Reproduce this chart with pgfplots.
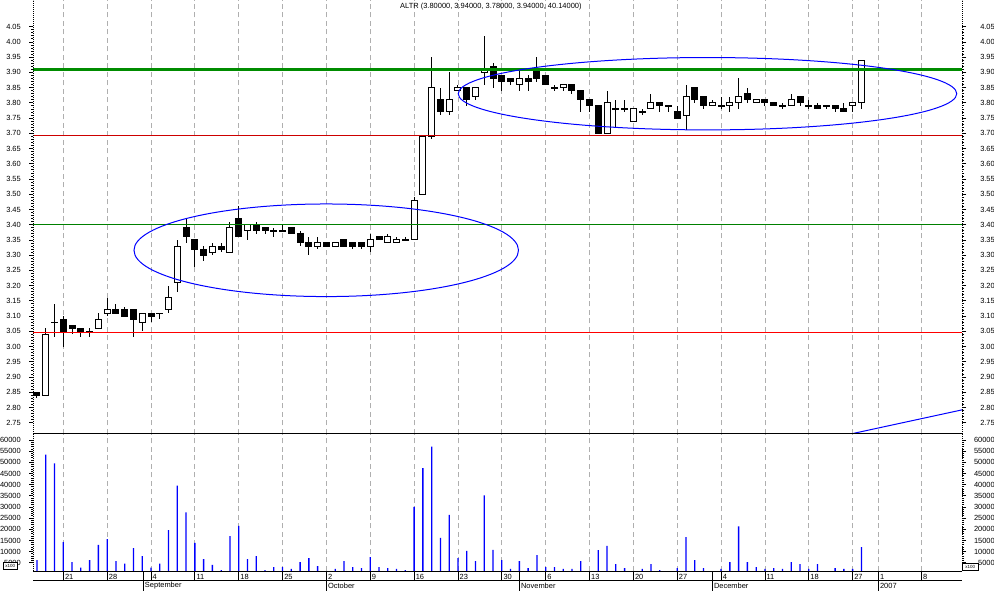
\documentclass[border=0pt]{standalone}
\usepackage{pgfplots}
\usepackage{pgfplotstable}
\pgfplotsset{compat=1.18}
\usepackage{fontspec}
\setmainfont{Liberation Sans}
\definecolor{thickgreen}{RGB}{0,140,0}
\definecolor{thingreen}{RGB}{0,128,0}
\definecolor{lred}{RGB}{255,0,0}
\definecolor{dred}{RGB}{205,0,0}
\definecolor{gridgray}{RGB}{175,175,175}

\pgfplotstableread{
d o h l c
-3 2.85 2.85 2.83 2.84
-2 2.84 3.06 2.84 3.04
-1 3.08 3.14 3.03 3.08
0 3.09 3.10 3.00 3.05
1 3.07 3.07 3.04 3.06
2 3.06 3.06 3.03 3.05
3 3.05 3.06 3.03 3.05
4 3.06 3.11 3.06 3.09
5 3.11 3.16 3.10 3.12
6 3.12 3.14 3.11 3.11
7 3.12 3.13 3.10 3.10
8 3.12 3.12 3.03 3.09
9 3.08 3.11 3.05 3.11
10 3.11 3.11 3.08 3.10
11 3.11 3.11 3.09 3.11
12 3.12 3.20 3.11 3.16
13 3.21 3.35 3.18 3.33
14 3.39 3.42 3.34 3.36
15 3.35 3.35 3.26 3.32
16 3.32 3.33 3.28 3.30
17 3.31 3.34 3.30 3.33
18 3.33 3.34 3.31 3.32
19 3.31 3.41 3.31 3.39
20 3.42 3.46 3.36 3.36
21 3.38 3.40 3.35 3.40
22 3.40 3.41 3.37 3.38
23 3.39 3.39 3.37 3.38
24 3.38 3.39 3.36 3.38
25 3.38 3.40 3.38 3.38
26 3.39 3.39 3.37 3.37
27 3.37 3.38 3.33 3.34
28 3.34 3.36 3.30 3.33
29 3.33 3.36 3.32 3.34
30 3.34 3.34 3.33 3.33
31 3.33 3.34 3.33 3.34
32 3.35 3.35 3.33 3.33
33 3.34 3.34 3.32 3.33
34 3.34 3.34 3.32 3.33
35 3.33 3.37 3.31 3.35
36 3.36 3.36 3.35 3.35
37 3.34 3.37 3.34 3.36
38 3.34 3.36 3.34 3.35
39 3.35 3.36 3.35 3.35
40 3.35 3.49 3.35 3.48
41 3.50 3.69 3.50 3.69
42 3.69 3.95 3.68 3.85
43 3.81 3.85 3.76 3.77
44 3.77 3.90 3.76 3.81
45 3.84 3.86 3.84 3.85
46 3.85 3.85 3.79 3.81
47 3.82 3.85 3.81 3.85
48 3.90 4.02 3.86 3.91
49 3.92 3.93 3.85 3.88
50 3.89 3.89 3.84 3.87
51 3.88 3.88 3.86 3.87
52 3.86 3.91 3.84 3.88
53 3.88 3.89 3.84 3.87
54 3.91 3.95 3.87 3.88
55 3.89 3.89 3.86 3.86
56 3.85 3.86 3.84 3.85
57 3.85 3.86 3.84 3.86
58 3.86 3.86 3.83 3.84
59 3.84 3.84 3.77 3.81
60 3.81 3.81 3.77 3.79
61 3.79 3.79 3.70 3.70
62 3.70 3.84 3.70 3.80
63 3.78 3.81 3.72 3.78
64 3.78 3.81 3.77 3.78
65 3.74 3.78 3.74 3.78
66 3.77 3.78 3.76 3.77
67 3.78 3.83 3.78 3.80
68 3.80 3.80 3.77 3.79
69 3.79 3.79 3.77 3.79
70 3.77 3.79 3.75 3.75
71 3.76 3.86 3.71 3.82
72 3.85 3.85 3.80 3.81
73 3.82 3.82 3.78 3.79
74 3.79 3.81 3.79 3.80
75 3.79 3.82 3.78 3.79
76 3.79 3.82 3.77 3.80
77 3.80 3.88 3.78 3.82
78 3.83 3.85 3.80 3.81
79 3.80 3.81 3.80 3.81
80 3.81 3.81 3.79 3.80
81 3.80 3.80 3.79 3.79
82 3.79 3.80 3.78 3.79
83 3.79 3.83 3.79 3.81
84 3.82 3.82 3.79 3.80
85 3.79 3.81 3.78 3.79
86 3.79 3.80 3.78 3.78
87 3.79 3.79 3.78 3.79
88 3.79 3.79 3.77 3.78
89 3.78 3.80 3.77 3.77
90 3.79 3.80 3.77 3.80
91 3.80 3.94 3.78 3.94
}\ohlc

\pgfplotstableread{
d v
-3 6200
-2 53500
-1 49500
0 14200
1 5300
2 2800
3 6200
4 13000
5 15600
6 5750
7 4550
8 11550
9 8000
10 2800
11 4550
12 19600
13 39600
14 27600
15 13900
16 6650
17 4000
18 1650
19 16900
20 21500
21 6650
22 8000
23 1650
24 3000
25 3000
26 2200
27 5300
28 7100
29 3500
31 2200
32 5750
33 3000
34 2550
35 7550
36 3000
37 2550
38 2200
39 1650
40 30000
41 47350
42 57000
43 16150
44 26400
45 7100
46 10350
47 5750
48 35200
49 10800
50 6200
51 2200
52 5750
53 2550
54 8450
55 3000
56 3000
57 2200
58 2200
59 5750
61 10650
62 12600
63 4400
64 2550
66 2200
67 4400
68 1650
70 2550
71 16450
72 6200
73 2550
75 2200
76 5300
77 21350
78 5300
79 3000
80 2200
81 2550
82 2200
83 5300
84 4400
85 2200
86 4400
88 2550
89 2200
90 2200
91 12000
}\vol

\tikzset{
  month/.style={anchor=west, inner sep=0pt, font=\fontsize{7.5}{9}\selectfont,
    xshift=1.5bp, yshift=-15bp},
}
\pgfplotsset{
  chartbase/.style={
    scale only axis, width=929bp, anchor=south west,
    xmin=-3.455, xmax=102.47,
    /pgf/number format/assume math mode=true,
    tick label style={font=\fontsize{7.5}{9}\selectfont, inner sep=0pt},
    ytick align=outside,
    major tick length=4bp, minor tick length=2bp,
    ytick style={black, line width=0.8bp},
    minor y tick num=4,
    separate axis lines,
    x axis line style={draw=none},
    y axis line style={black, line width=0.8bp, dash pattern=on 1bp off 1bp},
    xtick={0,5,10,15,20,25,30,35,40,45,50,55,60,65,70,75,80,85,90,92.93,97.83},
    major grid style={gridgray, line width=0.8bp, dash pattern=on 5bp off 3.5bp},
  },
  pricebase/.style={
    chartbase, at={(33bp,157bp)}, height=434bp,
    ymin=2.7128, ymax=4.1377,
    ytick={2.75,2.8,2.85,2.9,2.95,3,3.05,3.1,3.15,3.2,3.25,3.3,3.35,3.4,3.45,3.5,3.55,3.6,3.65,3.7,3.75,3.8,3.85,3.9,3.95,4,4.05},
    yticklabel style={/pgf/number format/fixed, /pgf/number format/fixed zerofill, /pgf/number format/precision=2},
    xticklabels={}, xtick style={draw=none},
  },
  volbase/.style={
    chartbase, at={(33bp,20bp)}, height=137bp,
    ymin=1300, ymax=62700,
    ytick={5000,10000,15000,20000,25000,30000,35000,40000,45000,50000,55000,60000},
    scaled y ticks=false,
    yticklabel style={/pgf/number format/set thousands separator={}},
  },
  candle/.style={draw=none, mark=none, forget plot,
    error bars/.cd, y dir=both, y explicit, error mark=none,
    error bar style={#1}},
}

\begin{document}
\begin{tikzpicture}
\useasboundingbox (0,0) rectangle (994bp,591bp);
\fill[white] (0,0) rectangle (994bp,591bp);

% ---------- price panel ----------
\begin{axis}[pricebase, xmajorgrids, yticklabel pos=left,
  yticklabel style={anchor=east, xshift=-8bp}]
  % wicks
  \addplot[candle={draw=black, line width=1bp}]
    table[x=d, y expr={(\thisrow{h}+\thisrow{l})/2}, y error expr={(\thisrow{h}-\thisrow{l})/2}] {\ohlc};
  % bodies (outline / filled)
  \addplot[candle={draw=black, line width=7bp}]
    table[x=d, y expr={(\thisrow{o}+\thisrow{c})/2}, y error expr={abs(\thisrow{c}-\thisrow{o})/2+0.00164}] {\ohlc};
  % hollow interior of rising candles
  \addplot[candle={draw=white, line width=5bp}]
    table[x=d, y expr={(\thisrow{o}+\thisrow{c})/2}, y error expr={max((\thisrow{c}-\thisrow{o})/2-0.00164,0)}] {\ohlc};
  % horizontal levels
  \addplot[thickgreen, line width=3.4bp] coordinates {(-3.455,3.91) (102.47,3.91)};
  \addplot[thingreen, line width=1bp] coordinates {(-3.455,3.40) (102.47,3.40)};
  \addplot[lred, line width=1bp] coordinates {(-3.455,3.047) (102.47,3.047)};
  \addplot[dred, line width=1bp] coordinates {(-3.455,3.694) (102.47,3.694)};
  % trend line
  \addplot[blue, line width=1bp] coordinates {(89.8,2.713) (102.47,2.792)};
  % ellipses
  \draw[blue, line width=1bp] (axis cs:29.98,3.316) ellipse [x radius=21.92, y radius=0.152];
  \draw[blue, line width=1bp] (axis cs:73.45,3.830) ellipse [x radius=28.42, y radius=0.1188];
\end{axis}
\begin{axis}[pricebase, yticklabel pos=right,
  yticklabel style={anchor=east, xshift=29bp}]
\end{axis}

% ---------- volume panel ----------
\begin{axis}[volbase, xmajorgrids, yticklabel pos=left, clip mode=individual,
  yticklabel style={anchor=east, xshift=-8bp},
  x axis line style={draw=black, line width=1bp, dash pattern=},
  xtick pos=left, xtick align=outside,
  xtick style={black, line width=0.8bp, /pgfplots/major tick length=10bp},
  xticklabels={21,28,4,11,18,25,2,9,16,23,30,6,13,20,27,4,11,18,27,1,8},
  xticklabel style={anchor=west, xshift=1.5bp, yshift=-2bp},
  extra x ticks={9.12,30,52,74,92.93},
  extra x tick labels={},
  extra x tick style={grid=none, xtick style={black, line width=0.8bp, /pgfplots/major tick length=20bp}},
  ]
  \addplot[ybar, bar width=1.3bp, bar shift=0pt, fill=blue, draw=none] table[x=d, y=v] {\vol};
  \node[month] at (axis cs:9.12,1300) {September};
  \node[month] at (axis cs:30,1300) {October};
  \node[month] at (axis cs:52,1300) {November};
  \node[month] at (axis cs:74,1300) {December};
  \node[month] at (axis cs:92.93,1300) {2007};
\end{axis}
\begin{axis}[volbase, yticklabel pos=right,
  yticklabel style={anchor=east, xshift=29bp}, xticklabels={}, xtick style={draw=none}]
\end{axis}

% date band separator and scale boxes
\draw[black, line width=1bp] (33bp,10bp) -- (962bp,10bp);
\node[draw=black, fill=white, inner sep=0pt, minimum width=14.6bp, minimum height=6.8bp,
  anchor=south west, font=\fontsize{4.5}{5}\selectfont] at (2.7bp,21.5bp) {x100};
\node[draw=black, fill=white, inner sep=0pt, minimum width=16.6bp, minimum height=7.5bp,
  anchor=south west, font=\fontsize{4.5}{5}\selectfont] at (961.7bp,20.5bp) {x100};
% title
\node[anchor=west, inner sep=0pt, font=\fontsize{7.5}{9}\selectfont] at (400bp,584.3bp)
  {ALTR (3.80000, 3.94000, 3.78000, 3.94000, 40.14000)};
\end{tikzpicture}
\end{document}
